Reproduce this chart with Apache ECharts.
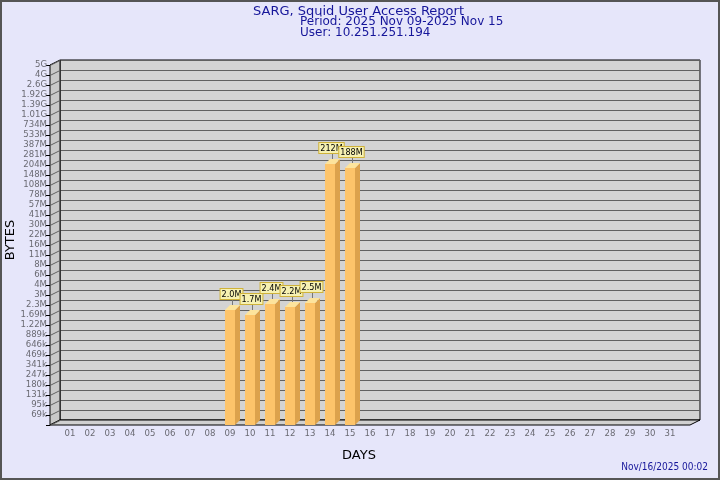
<!DOCTYPE html>
<html>
<head>
<meta charset="utf-8">
<script src="https://cdn.jsdelivr.net/npm/echarts@6/dist/echarts.min.js"></script>
<style>html,body{margin:0;padding:0;background:#e6e6fa}#c{width:720px;height:480px}</style>
</head>
<body>
<div id="c"></div>
<script>
const days = ['01','02','03','04','05','06','07','08','09','10','11','12','13','14','15','16',
  '17','18','19','20','21','22','23','24','25','26','27','28','29','30','31'];
const bytesByDay = [null,null,null,null,null,null,null,null,
  2.0e6, 1.7e6, 2.4e6, 2.2e6, 2.5e6, 212e6, 188e6,
  null,null,null,null,null,null,null,null,null,null,null,null,null,null,null,null];
const yTickLabels = ['69k','95k','131k','180k','247k','341k','469k','646k','889k','1.22M','1.69M',
  '2.3M','3M','4M','6M','8M','11M','16M','22M','30M','41M','57M','78M','108M','148M','204M',
  '281M','387M','533M','734M','1.01G','1.39G','1.92G','2.6G','4G','5G'];
const titleText = 'SARG, Squid User Access Report';
const periodText = 'Period: 2025 Nov 09-2025 Nov 15';
const userText = 'User: 10.251.251.194';
const dateText = 'Nov/16/2025 00:02';

const AXIS_MIN = 50300, AXIS_MAX = 4.98e9;
const SMALL_FONT = '"DejaVu Sans Condensed", "DejaVu Sans", sans-serif';
const FONT = '"DejaVu Sans", sans-serif';
const BLUE = '#16169a';

function fmtBytes(v) {
  if (v >= 1e9) return (v >= 1e11 ? Math.round(v/1e9) : (v/1e9).toFixed(1)) + 'G';
  if (v >= 1e6) return (v >= 1e8 ? Math.round(v/1e6) : (v/1e6).toFixed(1)) + 'M';
  return Math.round(v/1e3) + 'k';
}

const barData = [];
bytesByDay.forEach((v, i) => { if (v != null) barData.push([i, v]); });
const levelData = [];
for (let k = 0; k <= yTickLabels.length; k++) levelData.push([0, k]);

const chart = echarts.init(document.getElementById('c'), null, {renderer: 'canvas'});
chart.setOption({
  backgroundColor: '#e6e6fa',
  animation: false,
  title: [
    {text: titleText, left: 253, top: 5, padding: 0, textStyle: {color: BLUE, fontSize: 13, fontWeight: 'normal', fontFamily: FONT}},
    {text: periodText, left: 300, top: 16, padding: 0, textStyle: {color: BLUE, fontSize: 12, fontWeight: 'normal', fontFamily: FONT}},
    {text: userText, left: 300, top: 27, padding: 0, textStyle: {color: BLUE, fontSize: 12, fontWeight: 'normal', fontFamily: FONT}}
  ],
  grid: [
    {left: 60, top: 60, width: 640, height: 360, show: true, backgroundColor: '#d3d3d3', borderColor: '#000', borderWidth: 1},
    {left: 60, top: 65, width: 640, height: 360},
    {left: 50, top: 65, width: 640, height: 360}
  ],
  xAxis: [
    {gridIndex: 0, type: 'value', min: 0, max: 1, show: false},
    {gridIndex: 1, type: 'category', data: days.concat(['']),
      axisLine: {show: false},
      axisTick: {alignWithLabel: true, length: 5, lineStyle: {color: '#444'}, interval: (i, v) => v !== ''},
      axisLabel: {interval: 0, color: '#6a6a72', fontSize: 9.5, fontFamily: SMALL_FONT, margin: 4}},
    {gridIndex: 2, type: 'value', min: 0, max: 1, show: false}
  ],
  yAxis: [
    {gridIndex: 0, type: 'value', min: 0, max: yTickLabels.length, interval: 1,
      axisLine: {show: false}, axisTick: {show: false}, axisLabel: {show: false},
      splitLine: {lineStyle: {color: '#606060', width: 1}}},
    {gridIndex: 1, type: 'log', min: AXIS_MIN, max: AXIS_MAX, show: false, splitLine: {show: false}},
    {gridIndex: 2, type: 'category', boundaryGap: false, data: [''].concat(yTickLabels),
      axisLine: {show: true, lineStyle: {color: '#000'}},
      axisTick: {length: 4, interval: 0, lineStyle: {color: '#000'}},
      axisLabel: {interval: 0, color: '#6a6a72', fontSize: 9.5, fontFamily: SMALL_FONT, margin: 3},
      splitLine: {show: false}}
  ],
  graphic: [
    {type: 'polygon', z: 1, shape: {points: [[50,65],[60,60],[60,420],[50,425]]}, style: {fill: '#c8c8c8', stroke: '#000', lineWidth: 1}},
    {type: 'polygon', z: 1, shape: {points: [[50,425],[60,420],[700,420],[690,425]]}, style: {fill: '#d0d0d0', stroke: '#000', lineWidth: 1}},
    {type: 'text', z: 3, x: 11, y: 240, rotation: Math.PI/2, style: {text: 'BYTES', fill: '#000', font: '13px ' + FONT, align: 'center', verticalAlign: 'middle'}},
    {type: 'text', z: 3, x: 359, y: 456, style: {text: 'DAYS', fill: '#000', font: '13px ' + FONT, align: 'center', verticalAlign: 'middle'}},
    {type: 'text', z: 3, x: 708, y: 467, style: {text: dateText, fill: BLUE, font: '10px ' + SMALL_FONT, align: 'right', verticalAlign: 'middle'}},
    {type: 'rect', z: 3, shape: {x: 1, y: 1, width: 718, height: 478}, style: {fill: 'none', stroke: '#555', lineWidth: 2}}
  ],
  series: [
    {
      type: 'custom', xAxisIndex: 2, yAxisIndex: 2, data: levelData, clip: false, silent: true,
      encode: {x: 0, y: 1},
      renderItem: function (params, api) {
        const p = api.coord([0, api.value(1)]);
        return {type: 'line', z2: 5, shape: {x1: p[0], y1: p[1] + 0.5, x2: p[0] + 10, y2: p[1] - 4.5}, style: {stroke: '#606060', lineWidth: 1}};
      }
    },
    {
      type: 'custom', xAxisIndex: 1, yAxisIndex: 1, data: barData, clip: false, silent: true,
      encode: {x: 0, y: 1},
      renderItem: function (params, api) {
        const i = api.value(0), v = api.value(1);
        const p = api.coord([i, v]);
        const b = api.coord([i, AXIS_MIN]);
        const w = api.size([1, 0])[0];
        const hw = w / 4, d = w / 4;
        const x0 = Math.round(p[0]), y0 = Math.round(p[1]), yb = Math.round(b[1]);
        return {
          type: 'group',
          children: [
            {type: 'polygon', shape: {points: [[x0+hw, y0], [x0+hw+d, y0-d], [x0+hw+d, yb-d], [x0+hw, yb]]}, style: {fill: '#dca24c'}},
            {type: 'polygon', shape: {points: [[x0-hw, y0], [x0-hw+d, y0-d], [x0+hw+d, y0-d], [x0+hw, y0]]}, style: {fill: '#fde49c'}},
            {type: 'rect', shape: {x: x0-hw, y: y0, width: 2*hw, height: yb - y0}, style: {fill: '#fdc46a'}},
            {type: 'line', shape: {x1: x0+2.5, y1: y0-d, x2: x0+2.5, y2: y0-11}, style: {stroke: '#777', lineWidth: 1}},
            {type: 'text', x: x0+1.5, y: y0-11, style: {text: fmtBytes(v), fill: '#000', font: '9px ' + SMALL_FONT,
              align: 'center', verticalAlign: 'bottom', backgroundColor: '#f6f1b2', borderColor: '#cfb23a', borderWidth: 1, padding: [1, 1, 0, 1]}}
          ]
        };
      }
    }
  ]
});
</script>
</body>
</html>
